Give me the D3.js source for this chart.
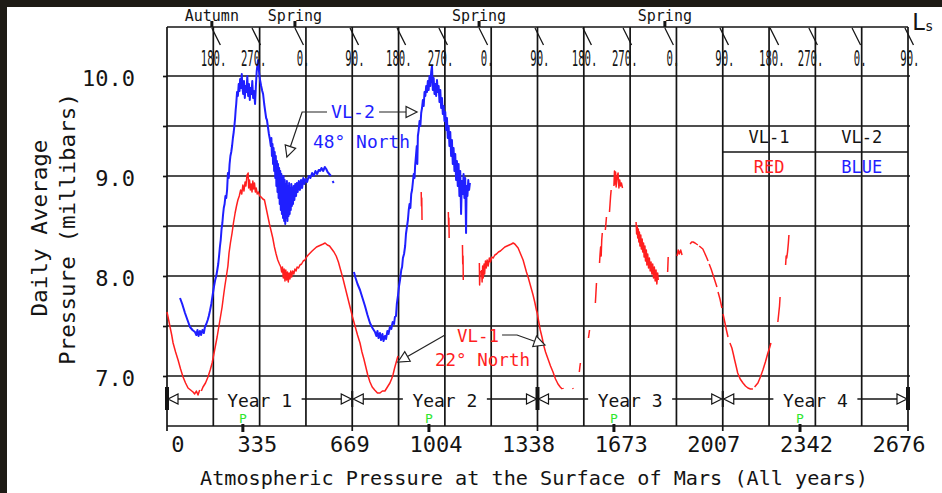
<!DOCTYPE html>
<html>
<head>
<meta charset="utf-8">
<script src="https://cdn.jsdelivr.net/npm/d3@7"></script>
<style>
  html, body { margin: 0; padding: 0; background: #fff; }
  svg { display: block; }
  text { font-family: "DejaVu Sans Mono", monospace; }
</style>
</head>
<body>
<svg id="chart" width="942" height="493"></svg>
<script>
// ---- Daily average surface pressure (mbar) by sol since landing ----
// VL-1 (22 deg North) — null marks a gap in the record
const vl1 = [
  [0,7.64],[6,7.56],[11,7.49],[17,7.41],[22,7.33],[31,7.24],[40,7.16],[49,7.07],[58,6.99],[67,6.93],[76,6.88],[85,6.86],[94,6.84],[100,6.82],[106,6.85],[112,6.81],[118,6.86],
  null,
  [124,6.85],[130,6.89],[139,6.93],[148,6.99],[156,7.06],[163,7.13],[172,7.26],[181,7.39],[190,7.54],[199,7.69],[205,7.82],[209,7.90],[214,7.99],[220,8.10],[224,8.23],[229,8.33],[235,8.43],[240,8.53],[246,8.63],[251,8.70],[256,8.76],[261,8.80],[266,8.86],[270,8.82],[274,8.91],[278,8.85],[282,8.94],[285,8.90],[289,9.01],[293,9.03],[295,8.88],[298,8.96],[301,8.86],[304,8.92],[307,8.84],[310,8.95],[313,8.87],[316,8.93],[319,8.84],[322,8.88],[326,8.82],[330,8.84],[335,8.80],[340,8.79],[346,8.77],[352,8.76],[358,8.68],[364,8.60],[370,8.52],[376,8.45],[382,8.38],[388,8.29],[394,8.22],[400,8.16],[406,8.12],[411,8.09],[414,8.04],[417,8.09],[420,7.98],[423,8.07],[426,7.95],[429,8.06],[432,7.96],[435,8.04],[438,7.94],[441,8.03],[444,7.97],[447,8.05],[450,7.99],[454,8.05],[458,8.02],[462,8.07],[466,8.05],[470,8.09],[475,8.08],[480,8.11],[486,8.12],[492,8.15],[498,8.16],[504,8.19],[510,8.21],[517,8.23],[524,8.25],[532,8.27],[540,8.29],[548,8.30],[556,8.31],[564,8.32],[571,8.33],[579,8.31],[587,8.30],[595,8.27],[603,8.24],[611,8.20],[619,8.14],[627,8.06],[635,7.98],[643,7.89],[652,7.79],[661,7.69],[670,7.59],[679,7.50],[688,7.41],[697,7.33],[704,7.24],[711,7.17],[718,7.09],[725,7.01],[733,6.94],[741,6.89],[750,6.86],[760,6.83],[769,6.83],[778,6.85],[787,6.85],[796,6.89],[805,6.93],[811,6.97],[816,7.01],[822,7.08],[827,7.13],[831,7.17],[834,7.20],
  null,
  [918,8.84],[919,8.70],[920,8.78],[921,8.56],
  null,
  [1016,8.64],[1017,8.50],[1018,8.58],[1019,8.38],
  null,
  [1067,8.31],[1068,8.12],[1069,8.20],[1070,7.96],
  null,
  [1128,8.13],[1129,7.91],[1131,8.05],
  null,
  [1136,8.06],[1138,7.94],[1140,8.10],[1142,7.98],[1145,8.12],[1147,8.02],[1150,8.15],[1153,8.08],[1156,8.16],[1160,8.10],[1164,8.18],[1168,8.14],[1173,8.19],[1178,8.18],[1184,8.21],[1190,8.22],[1197,8.24],[1204,8.25],[1212,8.27],[1220,8.29],[1228,8.30],[1236,8.31],[1244,8.32],[1250,8.33],[1256,8.32],[1262,8.30],[1268,8.28],[1274,8.24],[1280,8.20],[1286,8.16],[1292,8.10],[1298,8.04],[1304,7.99],[1310,7.93],[1316,7.87],[1322,7.81],[1328,7.74],[1334,7.66],[1337,7.63],[1342,7.55],[1348,7.46],[1355,7.38],[1360,7.31],[1367,7.24],[1376,7.17],[1385,7.10],[1394,7.04],[1403,6.97],[1412,6.92],[1420,6.89],[1427,6.87],
  null,
  [1429,6.88],[1431,6.87],
  null,
  [1465,6.88],[1467,6.87],
  null,
  [1489,7.04],[1491,7.09],[1493,7.13],
  null,
  [1522,7.38],[1524,7.42],[1526,7.46],
  null,
  [1547,7.73],[1549,7.83],[1551,7.93],
  null,
  [1562,8.13],[1564,8.22],[1566,8.29],[1568,8.20],[1570,8.36],[1572,8.43],
  null,
  [1583,8.46],[1585,8.52],[1587,8.59],
  null,
  [1598,8.64],[1600,8.72],[1602,8.80],[1604,8.86],
  null,
  [1614,8.90],[1616,9.05],[1618,8.92],[1620,9.04],[1622,8.89],[1626,9.00],[1629,9.03],[1632,8.88],[1635,8.96],[1638,8.90],[1641,8.93],[1645,8.88],
  null,
  [1694,8.54],[1696,8.42],[1698,8.50],[1700,8.38],[1702,8.47],[1704,8.34],[1706,8.44],[1708,8.30],[1711,8.41],[1713,8.27],[1716,8.37],[1718,8.24],[1721,8.33],[1723,8.19],[1726,8.30],[1728,8.15],[1731,8.26],[1733,8.11],[1736,8.22],[1739,8.08],[1742,8.18],[1745,8.05],[1748,8.14],[1751,8.02],[1754,8.12],[1757,7.98],[1760,8.09],[1763,7.95],[1766,8.06],[1769,7.92],[1772,8.03],[1774,7.96],
  null,
  [1808,8.04],[1810,8.19],
  null,
  [1842,8.20],[1846,8.26],[1850,8.22],[1855,8.26],[1860,8.21],
  null,
  [1889,8.32],[1895,8.34],[1900,8.34],[1907,8.33],[1912,8.32],[1917,8.31],
  null,
  [1922,8.30],[1935,8.27],[1940,8.24],[1948,8.19],[1954,8.15],
  null,
  [1958,8.12],[1965,8.07],[1972,8.01],[1979,7.95],[1986,7.89],
  null,
  [1990,7.84],[1997,7.77],[2004,7.68],
  null,
  [2008,7.62],[2015,7.53],[2021,7.45],[2026,7.39],
  null,
  [2033,7.33],[2040,7.28],[2046,7.21],[2050,7.16],[2056,7.09],[2061,7.03],[2070,6.97],[2080,6.93],[2089,6.90],[2098,6.88],[2107,6.87],[2116,6.87],
  null,
  [2122,6.89],[2128,6.91],[2134,6.93],[2143,6.99],[2152,7.06],[2161,7.14],[2170,7.23],[2176,7.28],[2181,7.33],
  null,
  [2206,7.54],[2209,7.62],[2212,7.70],[2214,7.79],
  null,
  [2234,8.11],[2236,8.20],[2238,8.18],[2241,8.24],[2244,8.33],[2246,8.41]
];

// VL-2 (48 deg North)
const vl2 = [
  [47,7.78],[55,7.72],[65,7.63],[74,7.56],[83,7.49],[92,7.46],[101,7.44],[106,7.41],[110,7.46],[114,7.40],[119,7.45],[123,7.41],[128,7.46],[133,7.43],[137,7.49],[142,7.52],[147,7.56],[151,7.60],[155,7.65],[160,7.72],[166,7.83],[170,7.90],[174,7.96],[178,8.00],[181,8.05],[185,8.12],[188,8.20],[191,8.29],[194,8.36],[197,8.47],[200,8.53],[202,8.60],[205,8.68],[208,8.72],[211,8.80],[214,8.78],[217,8.86],[220,9.03],[223,8.98],[226,9.12],[229,9.20],[232,9.24],[235,9.30],[238,9.38],[241,9.44],[244,9.52],[246,9.58],[248,9.66],[250,9.72],[253,9.84],[256,9.80],[259,9.92],[262,9.85],[264,9.97],[267,9.88],[270,10.02],[272,9.90],[275,9.82],[278,9.95],[281,9.78],[284,9.90],[287,9.84],[290,10.00],[293,9.80],[296,9.92],[299,9.76],[302,9.88],[305,9.82],[308,9.95],[311,9.78],[314,9.85],[318,9.72],[321,9.90],[324,10.05],[327,10.12],[329,10.16],[332,10.05],[336,9.96],[340,9.90],[344,9.85],[347,9.82],[351,9.72],[355,9.64],[358,9.58],[361,9.56],[365,9.48],[368,9.42],[372,9.36],
  [375,9.30],[377,9.38],[379,9.20],[381,9.32],[383,9.12],[385,9.28],[387,9.05],[389,9.24],[391,8.98],[393,9.20],[395,8.90],[397,9.15],[399,8.84],[401,9.12],[403,8.78],[405,9.08],[407,8.72],[409,9.05],[411,8.66],[413,9.02],[415,8.62],[417,8.98],[419,8.58],[421,9.00],[423,8.55],[425,8.96],[427,8.52],[429,8.92],[431,8.58],[433,8.95],[435,8.55],[437,8.90],[439,8.60],[441,8.93],[443,8.62],[445,8.88],[447,8.66],[449,8.92],[451,8.70],[453,8.88],[455,8.72],[457,8.90],[460,8.76],[463,8.92],[466,8.80],[469,8.93],[472,8.84],[476,8.95],[480,8.86],[484,8.96],[488,8.88],[492,8.98],[496,8.92],[500,8.97],[506,8.94],[512,9.00],[518,8.98],[524,9.03],[530,9.00],[536,9.05],[542,9.02],[548,9.06],[553,9.05],[558,9.08],[564,9.05],[570,9.09],[575,9.07],[580,9.04],[586,9.02],[592,9.00],
  null,
  [598,8.95],[602,8.93],
  null,
  [675,8.04],[681,7.98],[688,7.92],[697,7.86],[706,7.78],[715,7.70],[724,7.61],[733,7.53],[742,7.48],[751,7.44],[756,7.40],[760,7.45],[764,7.38],[769,7.43],[773,7.36],[778,7.42],[782,7.35],[787,7.40],[791,7.37],[796,7.45],[800,7.42],[805,7.49],[810,7.47],[815,7.54],[820,7.52],[823,7.59],[827,7.60],[830,7.72],[834,7.80],[838,7.90],[842,7.97],[846,8.06],[849,8.09],[852,8.18],[856,8.22],[860,8.30],[863,8.42],[866,8.48],[870,8.56],[873,8.66],[876,8.72],[879,8.68],[882,8.82],[885,8.86],[888,8.94],[891,9.02],[894,8.98],[896,9.10],[899,9.20],[902,9.30],[904,9.12],[906,9.40],[909,9.46],[912,9.55],[915,9.50],[918,9.63],[921,9.68],[924,9.76],[927,9.70],[930,9.84],[933,9.80],[936,9.90],[939,9.84],[942,9.95],[945,9.86],[948,10.00],[951,9.90],[954,10.04],[957,10.10],[960,9.86],[963,9.98],[966,9.82],[969,9.92],[972,9.80],[975,9.96],[978,9.84],[981,9.90],[984,9.74],[987,9.86],[990,9.68],[993,9.78],[996,9.62],[999,9.70],[1002,9.55],[1005,9.64],[1008,9.46],[1011,9.58],[1014,9.38],[1017,9.50],[1020,9.30],[1023,9.44],[1026,9.20],[1029,9.36],[1032,9.12],[1035,9.28],[1038,9.05],[1041,9.22],[1044,8.96],[1047,9.15],[1050,8.90],[1053,9.12],[1056,8.80],[1059,9.05],[1062,8.62],[1065,8.95],[1068,8.82],[1071,9.02],[1074,8.78],[1077,8.98],[1080,8.43],[1082,8.90],[1085,8.80],[1088,8.96],[1091,8.86],[1094,8.93]
];

// Bottom axis (sols) and Mars years
const solTicks = [0, 335, 669, 1004, 1338, 1673, 2007, 2342, 2676];
const yearBounds = [0, 669, 1338, 2007, 2676];
const yearLabels = ["Year 1", "Year 2", "Year 3", "Year 4"];
const perihelionSols = [274, 946, 1614, 2286];

// Pressure axis
const pressureTicks = [7, 7.5, 8, 8.5, 9, 9.5, 10];

// Areocentric longitude (Ls) along the top
const lsSols = [162, 307, 462, 661, 831, 982, 1127, 1329, 1502, 1647, 1798, 1997, 2178, 2318, 2474, 2665];
const lsLabels = ["180.", "270.", "0.", "90.", "180.", "270.", "0.", "90.", "180.", "270.", "0.", "90.", "180.", "270.", "0.", "90."];
const seasonSols = [162, 462, 1127, 1798];
const seasonLabels = ["Autumn", "Spring", "Spring", "Spring"];

// ---------------------------------------------------------------
const W = 942, H = 493;
const INK = "#141414", RED = "#ff1f1f", BLUE = "#1f1fff", GREEN = "#2ee62e";
const svg = d3.select("#chart");

svg.append("rect").attr("width", W).attr("height", H).attr("fill", "#fff");
// dark frame on the top and left edges
svg.append("rect").attr("x", 0).attr("y", 0).attr("width", W).attr("height", 7).attr("fill", "#1e1b15");
svg.append("rect").attr("x", 0).attr("y", 0).attr("width", 7).attr("height", H).attr("fill", "#1e1b15");

const x = d3.scaleLinear().domain([0, 2676]).range([167, 908]);
const y = d3.scaleLinear().domain([6.5, 10.49]).range([426, 27]);
const [yBot, yTop] = [y(6.5), y(10.49)];

// ---- grid ----
const grid = svg.append("g").attr("stroke", INK).attr("stroke-width", 1.7);
d3.range(17).map(i => i * 2676 / 16).forEach(s => {
  grid.append("line").attr("x1", x(s)).attr("x2", x(s)).attr("y1", yTop).attr("y2", yBot);
});
pressureTicks.forEach(p => {
  grid.append("line").attr("x1", x(0)).attr("x2", x(2676) + 2).attr("y1", y(p)).attr("y2", y(p));
});
grid.append("line").attr("x1", x(0)).attr("x2", x(2676)).attr("y1", yTop).attr("y2", yTop);
grid.append("line").attr("x1", x(0)).attr("x2", x(2676)).attr("y1", yBot).attr("y2", yBot);

// ---- y axis ticks & labels ----
const yAxis = d3.axisLeft(y)
  .tickValues(pressureTicks)
  .tickSize(4)
  .tickPadding(28)
  .tickFormat(d => Number.isInteger(d) ? d.toFixed(1) : "");
const gy = svg.append("g").attr("transform", `translate(${x(0)},0)`).call(yAxis);
gy.select(".domain").remove();
gy.selectAll(".tick line").attr("stroke", INK).attr("stroke-width", 1.7);
gy.selectAll(".tick text")
  .attr("fill", INK).attr("font-size", 22).attr("dy", "0.41em")
  .style("font-family", "'DejaVu Sans Mono', monospace");

// ---- x axis labels (right-aligned just past each tick) ----
const xAxis = d3.axisBottom(x).tickValues(solTicks).tickSize(0).tickFormat(d3.format("d"));
const gx = svg.append("g").attr("transform", `translate(0,${yBot})`).call(xAxis);
gx.select(".domain").remove();
gx.selectAll(".tick text")
  .attr("fill", INK).attr("font-size", 22).attr("y", 26).attr("dy", 0)
  .attr("x", 17).attr("text-anchor", "end")
  .style("font-family", "'DejaVu Sans Mono', monospace");

// small ticks below the axis at year boundaries
yearBounds.forEach(s => {
  svg.append("line").attr("x1", x(s)).attr("x2", x(s)).attr("y1", yBot).attr("y2", yBot + 5)
    .attr("stroke", INK).attr("stroke-width", 1.7);
});

// ---- pressure series ----
const line = d3.line()
  .defined(d => d !== null)
  .x(d => x(d[0]))
  .y(d => y(d[1]));

svg.append("path").datum(vl1).attr("d", line)
  .attr("fill", "none").attr("stroke", RED).attr("stroke-width", 1.5).attr("stroke-linejoin", "round");
svg.append("path").datum(vl2).attr("d", line)
  .attr("fill", "none").attr("stroke", BLUE).attr("stroke-width", 2).attr("stroke-linejoin", "round");

// ---- helpers ----
function label(txt, px, py, opts = {}) {
  const t = svg.append("text")
    .attr("x", px).attr("y", py)
    .attr("font-size", opts.size || 18)
    .attr("fill", opts.fill || INK)
    .attr("text-anchor", opts.anchor || "start")
    .text(txt);
  if (opts.len) t.attr("textLength", opts.len).attr("lengthAdjust", "spacingAndGlyphs");
  if (opts.transform) t.attr("transform", opts.transform);
  return t;
}
function head(tipX, tipY, ang, size, color, fill) {
  const L = size, Wd = size * 0.5;
  const bx = tipX - L * Math.cos(ang), by = tipY - L * Math.sin(ang);
  const px = -Math.sin(ang) * Wd, py = Math.cos(ang) * Wd;
  svg.append("path")
    .attr("d", `M${tipX},${tipY}L${bx + px},${by + py}L${bx - px},${by - py}Z`)
    .attr("fill", fill).attr("stroke", color).attr("stroke-width", 1.2);
}
// callout arrow given in data units (last point is the tip)
function callout(pts) {
  const p = pts.map(d => [x(d[0]), y(d[1])]);
  svg.append("path").attr("d", d3.line()(p))
    .attr("fill", "none").attr("stroke", "#222").attr("stroke-width", 1.2);
  const a = p[p.length - 2], b = p[p.length - 1];
  head(b[0], b[1], Math.atan2(b[1] - a[1], b[0] - a[0]), 11, "#222", "#fff");
}

// ---- Ls scale along the top band (tall, narrow digits) ----
const lsG = svg.append("g");
lsSols.forEach((s, i) => {
  const x0 = x(s), x1 = x(s) + 8.5;
  lsG.append("line").attr("x1", x0).attr("y1", yTop + 1).attr("x2", x1).attr("y2", 45)
    .attr("stroke", INK).attr("stroke-width", 1.3);
  label(lsLabels[i], 0, 0, { size: 14, anchor: "end",
    transform: `translate(${x1 + 6},66) scale(0.76,1.45)` });
});
seasonSols.forEach((s, i) => {
  svg.append("line").attr("x1", x(s)).attr("x2", x(s)).attr("y1", yTop - 6).attr("y2", yTop)
    .attr("stroke", INK).attr("stroke-width", 3);
  label(seasonLabels[i], x(s), 21, { size: 15, anchor: "middle" });
});
label("L", 912, 30, { size: 23 });
label("s", 925, 31, { size: 14 });

// ---- Mars year bar ----
const yearY = y(6.77);
yearLabels.forEach((lab, i) => {
  const s0 = yearBounds[i], s1 = yearBounds[i + 1];
  const cx = x((s0 + s1) / 2);
  label(lab, cx, yearY + 8, { size: 17, anchor: "middle", len: 65 });
  const gap = 42;
  svg.append("line").attr("x1", x(s0) + 9).attr("x2", cx - gap).attr("y1", yearY).attr("y2", yearY)
    .attr("stroke", INK).attr("stroke-width", 1.3);
  svg.append("line").attr("x1", cx + gap).attr("x2", x(s1) - 9).attr("y1", yearY).attr("y2", yearY)
    .attr("stroke", INK).attr("stroke-width", 1.3);
  head(x(s0) + 1, yearY, Math.PI, 10, INK, "#fff");
  head(x(s1) - 1, yearY, 0, 10, INK, "#fff");
});
yearBounds.forEach((s, i) => {
  const heavy = i % 2 === 0;
  svg.append("line").attr("x1", x(s)).attr("x2", x(s))
    .attr("y1", yearY - (heavy ? 12 : 8)).attr("y2", yearY + (heavy ? 11 : 8))
    .attr("stroke", INK).attr("stroke-width", heavy ? 4 : 2);
});

// perihelion markers
perihelionSols.forEach(s => {
  svg.append("line").attr("x1", x(s)).attr("x2", x(s)).attr("y1", yBot - 2).attr("y2", yBot + 6)
    .attr("stroke", INK).attr("stroke-width", 3);
  label("P", x(s), yBot - 3, { size: 13, anchor: "middle", fill: GREEN });
});

// ---- legend table ----
svg.append("line").attr("x1", x(2007)).attr("x2", x(2676)).attr("y1", y(9.24)).attr("y2", y(9.24))
  .attr("stroke", INK).attr("stroke-width", 1.7);
const c1 = x((2007 + 2341.5) / 2), c2 = x((2341.5 + 2676) / 2);
label("VL-1", c1, 143, { size: 17, anchor: "middle" });
label("VL-2", c2, 143, { size: 17, anchor: "middle" });
label("RED", c1, 173, { size: 17, anchor: "middle", fill: RED });
label("BLUE", c2, 173, { size: 17, anchor: "middle", fill: BLUE });

// ---- callouts ----
label("VL-2", 331, 118, { size: 18, fill: BLUE, len: 44 });
label("48\u00B0 North", 313, 148, { size: 18, fill: BLUE, len: 97 });
callout([[578, 9.64], [488, 9.64], [433, 9.19]]);
callout([[766, 9.64], [903, 9.64]]);

label("VL-1", 457, 342, { size: 18, fill: RED, len: 42 });
label("22\u00B0 North", 435, 366, { size: 18, fill: RED, len: 95 });
callout([[1004, 7.41], [834, 7.14]]);
callout([[1210, 7.41], [1264, 7.41], [1365, 7.31]]);

// ---- axis titles ----
label("Atmospheric Pressure at the Surface of Mars (All years)", 534, 485, { size: 20, anchor: "middle", len: 668 });
label("Daily Average", 0, 0, { size: 21, anchor: "middle", len: 177, transform: "translate(47,228) rotate(-90)" });
label("Pressure (millibars)", 0, 0, { size: 21, anchor: "middle", len: 272, transform: "translate(75,229) rotate(-90)" });
</script>
</body>
</html>
